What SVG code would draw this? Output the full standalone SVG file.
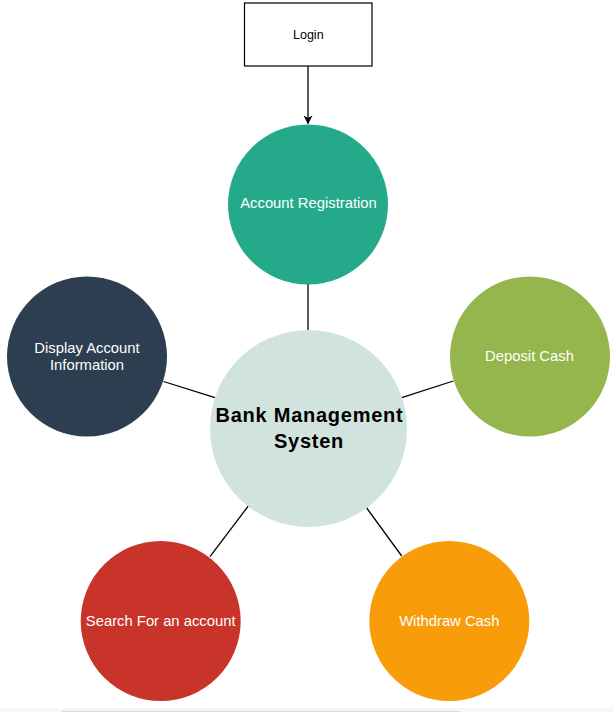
<svg xmlns="http://www.w3.org/2000/svg" width="614" height="712" viewBox="0 0 614 712">
<defs>
<style>
.lbl{font-family:"Liberation Sans",Arial,sans-serif;font-size:14.8px;fill:#ffffff;text-anchor:middle}
.conn{stroke:#000000;stroke-width:1.3;fill:none}
.big{font-family:"Liberation Sans",Arial,sans-serif;font-size:20px;font-weight:bold;fill:#000000;text-anchor:middle;letter-spacing:0.75px}
</style>
<marker id="arr" viewBox="0 0 10 10" refX="9" refY="5" markerWidth="9" markerHeight="9" markerUnits="userSpaceOnUse" orient="auto">
<path d="M0,0 L10,5 L0,10 L3,5 Z" fill="#000000"/>
</marker>
</defs>
<rect width="614" height="712" fill="#ffffff"/>
<rect x="0" y="708" width="614" height="4" fill="#f6f7f9"/>
<line x1="62" y1="711.5" x2="460" y2="711.5" stroke="#d8dadd" stroke-width="1"/>
<g id="connectors">
<line class="conn" x1="308" y1="66" x2="308" y2="123.5" marker-end="url(#arr)"/>
<line class="conn" x1="308" y1="284" x2="308" y2="330"/>
<line class="conn" x1="163.5" y1="381.5" x2="215" y2="397.7"/>
<line class="conn" x1="401.7" y1="397.7" x2="453.3" y2="381"/>
<line class="conn" x1="210" y1="556.7" x2="248.3" y2="506"/>
<line class="conn" x1="366.7" y1="508" x2="401.7" y2="556"/>
</g>
<g id="login">
<rect x="244.5" y="3" width="127.5" height="63" fill="#ffffff" stroke="#000000" stroke-width="1.2"/>
<text x="308.3" y="39" style="font-family:'Liberation Sans',Arial,sans-serif;font-size:12.5px;fill:#000000;text-anchor:middle">Login</text>
</g>
<g id="account-registration">
<circle cx="308" cy="204.5" r="80" fill="#24a98b"/>
<text class="lbl" x="308.5" y="207.5">Account Registration</text>
</g>
<g id="bank-management">
<circle cx="308.5" cy="428.5" r="98.5" fill="#d1e3dd"/>
<text class="big" x="309.5" y="422">Bank Management</text>
<text class="big" x="309" y="448">Systen</text>
</g>
<g id="display-account">
<circle cx="87" cy="356.5" r="80" fill="#2c3e50"/>
<text class="lbl" x="87" y="353.3">Display Account</text>
<text class="lbl" x="87" y="370">Information</text>
</g>
<g id="deposit-cash">
<circle cx="530" cy="356.5" r="80" fill="#94b64c"/>
<text class="lbl" x="529.5" y="360.7">Deposit Cash</text>
</g>
<g id="search-account">
<circle cx="160.7" cy="621" r="80" fill="#c8342a"/>
<text class="lbl" x="160.7" y="626">Search For an account</text>
</g>
<g id="withdraw-cash">
<circle cx="449.3" cy="621" r="80" fill="#f89c0a"/>
<text class="lbl" x="449.3" y="626">Withdraw Cash</text>
</g>
</svg>
